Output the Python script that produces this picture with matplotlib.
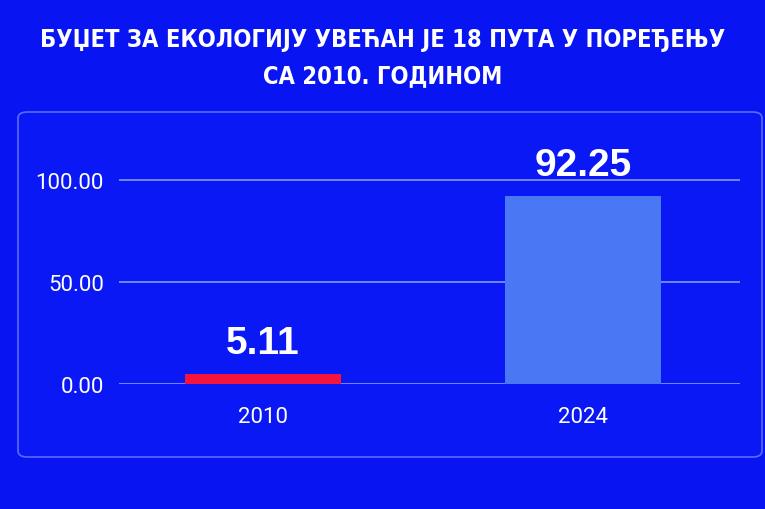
import matplotlib
matplotlib.use("Agg")
import matplotlib.pyplot as plt
from matplotlib.patches import FancyBboxPatch

categories = ["2010", "2024"]
values = [5.11, 92.25]
value_labels = ["5.11", "92.25"]
yticks = [0, 50, 100]
ytick_labels = ["0.00", "50.00", "100.00"]
title = "БУЏЕТ ЗА ЕКОЛОГИЈУ УВЕЋАН ЈЕ 18 ПУТА У ПОРЕЂЕЊУ\nСА 2010. ГОДИНОМ"

bg = "#0814f2"
bar_colors = ["#f4143c", "#4a78f4"]

fig = plt.figure(figsize=(7.65, 5.1), dpi=100)
fig.patch.set_facecolor(bg)

panel = FancyBboxPatch((18/765, 52/510), (762-18)/765, (397-52)/510,
                       boxstyle="round,pad=0,rounding_size=0.012",
                       transform=fig.transFigure, facecolor="#0a18f6",
                       edgecolor="#5b6cff", linewidth=1.2, zorder=-5)
fig.patches.append(panel)

fig.text(0.5, 1 - 58/510, title, ha="center", va="center", color="white",
         fontsize=17, fontweight="bold", family="DejaVu Sans", fontstretch="condensed",
         linespacing=1.6)

ax = fig.add_axes([119/765, 125/510, 621/765, 245/510], zorder=5)
ax.set_facecolor("none")
x = list(range(len(categories)))
bars = ax.bar(x, values, width=0.4875, color=bar_colors, zorder=3)
ax.set_xlim(-0.45, 1.49)
ax.set_ylim(0, 120)
ax.set_yticks(yticks)
ax.set_yticklabels(ytick_labels)
ax.set_xticks(x)
ax.set_xticklabels(categories)
for t in yticks:
    ax.axhline(t, color="#7d8eff", linewidth=1.3, zorder=1)
for s in ax.spines.values():
    s.set_visible(False)
ax.tick_params(length=0, colors="white", labelsize=16)
ax.tick_params(axis="y", pad=11)
ax.tick_params(axis="x", pad=16)
for lab in ax.get_xticklabels() + ax.get_yticklabels():
    lab.set_family("Roboto")

for b, lab in zip(bars, value_labels):
    ax.annotate(lab, (b.get_x() + b.get_width()/2, b.get_height()),
                xytext=(0, 9), textcoords="offset points", ha="center", va="bottom",
                color="white", fontsize=28, fontweight="bold", family="Liberation Sans")

fig.savefig("out.png", dpi=100, facecolor=bg)
